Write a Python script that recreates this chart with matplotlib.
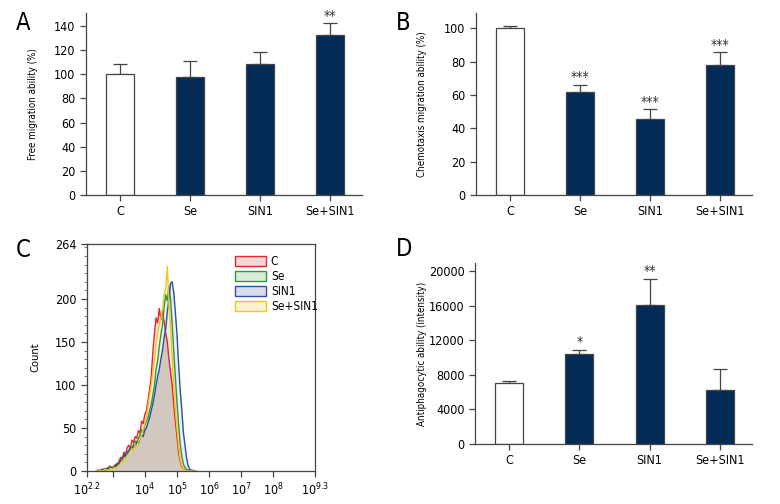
import numpy as np
import matplotlib
matplotlib.use("Agg")
import matplotlib.pyplot as plt
from matplotlib.patches import Patch

plt.rcParams['font.family'] = ['DejaVu Sans']
plt.rcParams['font.stretch'] = 'condensed'
plt.rcParams['mathtext.fontset'] = 'dejavusans'
plt.rcParams['font.size'] = 9

# bar data
groups = ["C", "Se", "SIN1", "Se+SIN1"]
free_mig = [100, 98, 108.5, 132.5]
free_mig_err = [8.5, 13, 10, 9.5]
free_mig_sig = ["", "", "", "**"]

chemo_mig = [100, 61.5, 45.5, 78]
chemo_mig_err = [1.5, 4.5, 6, 7.5]
chemo_mig_sig = ["", "***", "***", "***"]

antiphago = [7100, 10400, 16100, 6250]
antiphago_err = [200, 450, 3000, 2400]
antiphago_sig = ["", "*", "**", ""]

# flow cytometry histograms (log10 fluorescence bin centres, counts)
log_bins = np.round(np.arange(2.5, 5.601, 0.05), 2)
hist_c = [0, 1, 0, 2, 1, 3, 2, 4, 3, 5, 4, 6, 8, 7, 12, 16, 14, 22, 19, 27, 30, 26, 36, 33, 40, 38,
          47, 44, 58, 55, 66, 70, 82, 95, 110, 138, 160, 178, 172, 189, 176, 186, 174, 160, 150,
          130, 115, 100, 78, 58, 40, 22, 12, 5, 3, 1, 0, 1, 0, 0, 1, 0, 0]
hist_se = [0, 0, 1, 0, 2, 1, 3, 2, 6, 3, 4, 5, 4, 8, 10, 12, 11, 16, 20, 18, 24, 28, 25, 31, 35, 33,
           38, 42, 48, 45, 52, 58, 62, 70, 78, 88, 100, 118, 128, 145, 158, 170, 190, 205, 198,
           215, 200, 172, 140, 110, 80, 55, 32, 18, 8, 4, 2, 1, 0, 0, 0, 0, 0]
hist_sin1 = [0, 1, 0, 1, 2, 1, 2, 3, 2, 4, 3, 5, 6, 9, 8, 13, 15, 19, 17, 23, 22, 27, 25, 30, 28, 34,
             32, 38, 42, 40, 47, 50, 56, 62, 70, 78, 88, 100, 110, 118, 130, 140, 155, 165, 185,
             200, 218, 220, 208, 185, 160, 125, 95, 72, 45, 30, 15, 6, 2, 1, 0, 0, 0]
hist_sesin1 = [0, 0, 1, 0, 0, 2, 1, 1, 2, 3, 2, 4, 3, 5, 6, 9, 11, 14, 13, 18, 20, 23, 26, 24, 30, 28,
               34, 38, 42, 48, 55, 62, 75, 88, 100, 115, 130, 148, 160, 170, 178, 188, 205, 212, 238,
               195, 170, 135, 100, 72, 50, 30, 15, 7, 3, 1, 0, 0, 0, 0, 0, 0, 0]

navy = "#022b56"
fig = plt.figure(figsize=(7.8, 5.04), dpi=100)


def bar_panel(rect, vals, errs, sigs, ylim, yticks, ylabel, star_pad, label_x):
    ax = fig.add_axes(rect)
    x = np.arange(len(groups))
    colors = ["white"] + [navy] * 3
    ax.bar(x, vals, width=0.4, color=colors, edgecolor="#444444", linewidth=0.9, zorder=2)
    ax.errorbar(x, vals, yerr=[np.zeros(len(vals)), errs], fmt="none", ecolor="#444444",
                elinewidth=0.9, capsize=5, capthick=0.9, zorder=1)
    for xi, v, e, s in zip(x, vals, errs, sigs):
        if s:
            ax.text(xi, v + e + star_pad, s, ha="center", va="bottom", fontsize=10, color="#333333")
    ax.set_xlim(-0.49, 3.46)
    ax.set_ylim(*ylim)
    ax.set_yticks(yticks)
    ax.set_xticks(x)
    ax.set_xticklabels(groups)
    ax.set_ylabel(ylabel, fontsize=7)
    ax.yaxis.set_label_coords(label_x, 0.5)
    for s in ["top", "right"]:
        ax.spines[s].set_visible(False)
    for s in ["left", "bottom"]:
        ax.spines[s].set_color("#444444")
        ax.spines[s].set_linewidth(0.9)
    ax.tick_params(direction="out", length=4, width=0.9, color="#444444", labelsize=9)
    return ax


bar_panel([0.110, 0.613, 0.354, 0.361], free_mig, free_mig_err, free_mig_sig,
          (0, 150.5), range(0, 141, 20), "Free migration ability (%)", 0.5, -0.174)
bar_panel([0.610, 0.613, 0.354, 0.361], chemo_mig, chemo_mig_err, chemo_mig_sig,
          (0, 109), range(0, 101, 20), "Chemotaxis migration ability (%)", 0.3, -0.178)
bar_panel([0.609, 0.119, 0.355, 0.359], antiphago, antiphago_err, antiphago_sig,
          (0, 20900), range(0, 20001, 4000), "Antiphagocytic ability (intensity)", 80, -0.173)

# panel C histogram
axc = fig.add_axes([0.1115, 0.0655, 0.2925, 0.4505])
xs = 10 ** log_bins
series = [("C", hist_c, "#e8242b", "#f6d6d6"),
          ("Se", hist_se, "#2e9a3d", "#d8ecd8"),
          ("SIN1", hist_sin1, "#2c4fa3", "#dcdcee"),
          ("Se+SIN1", hist_sesin1, "#f5c518", "#fbf3d6")]
for name, h, lc, fc in series:
    axc.fill_between(xs, 0, h, color=fc, alpha=0.5, linewidth=0)
env = np.min([h for _, h, _, _ in series], axis=0)
axc.fill_between(xs, 0, env, color="#d3c8c0", linewidth=0)
for name, h, lc, fc in series:
    axc.plot(xs, h, color=lc, linewidth=1.0)
axc.set_xscale("log")
axc.set_xlim(10 ** 2.2, 10 ** 9.3)
axc.set_ylim(0, 264)
axc.set_yticks([0, 50, 100, 150, 200, 264])
axc.set_yticks(np.arange(0, 264, 10), minor=True)
xt = [10 ** 2.2, 1e3, 1e4, 1e5, 1e6, 1e7, 1e8, 10 ** 9.3]
axc.set_xticks(xt)
axc.set_xticklabels([r"$10^{2.2}$", "", r"$10^4$", r"$10^5$", r"$10^6$", r"$10^7$",
                     r"$10^8$", r"$10^{9.3}$"])
axc.xaxis.set_minor_locator(matplotlib.ticker.NullLocator())
axc.set_ylabel("Count", fontsize=8)
axc.yaxis.set_label_coords(-0.206, 0.5)
for s in axc.spines.values():
    s.set_color("#444444")
    s.set_linewidth(0.9)
axc.tick_params(direction="out", length=4, width=0.9, color="#444444", labelsize=9)
axc.tick_params(which="minor", length=2, width=0.6, color="#666666")
handles = [Patch(facecolor=fc, edgecolor=lc, linewidth=1.0, label=name)
           for name, h, lc, fc in series]
axc.legend(handles=handles, loc="upper left", bbox_to_anchor=(0.63, 0.97), frameon=False,
           fontsize=8.5, handlelength=2.6, handleheight=0.9, labelspacing=0.15,
           handletextpad=0.4, borderaxespad=0)

# panel letters
for lx, ly, lt in [(0.020, 0.955, "A"), (0.508, 0.955, "B"), (0.020, 0.503, "C"), (0.508, 0.505, "D")]:
    fig.text(lx, ly, lt, fontsize=17, ha="left", va="center")

fig.savefig("out.png", dpi=100)
